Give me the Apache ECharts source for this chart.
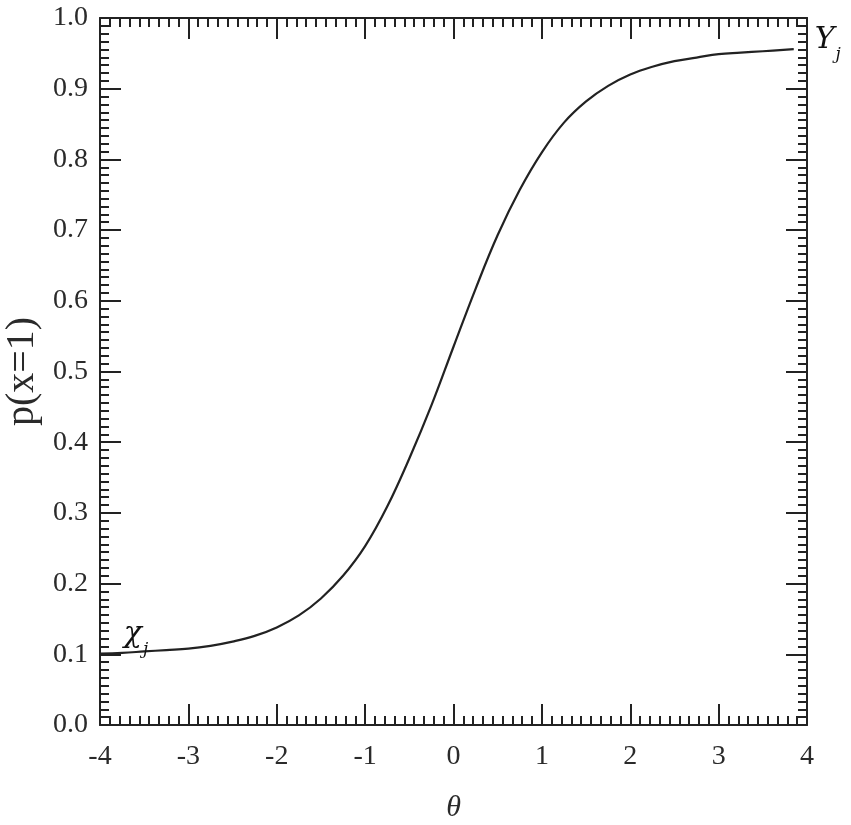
<!DOCTYPE html>
<html><head><meta charset="utf-8">
<script src="https://cdn.jsdelivr.net/npm/echarts@6/dist/echarts.min.js"></script>
<style>html,body{margin:0;padding:0;background:#fff}#c{width:851px;height:825px}</style>
</head><body><div id="c"></div>
<script>
const theta = [-4,-3.75,-3.5,-3.25,-3,-2.75,-2.5,-2.25,-2,-1.75,-1.5,-1.25,-1,-0.75,-0.5,-0.25,0,0.25,0.5,0.75,1,1.25,1.5,1.75,2,2.25,2.5,2.75,3,3.25,3.5,3.85];
const prob  = [0.101,0.102,0.104,0.106,0.108,0.112,0.118,0.126,0.138,0.155,0.179,0.211,0.253,0.309,0.377,0.452,0.535,0.617,0.693,0.757,0.810,0.852,0.882,0.904,0.920,0.931,0.939,0.944,0.949,0.951,0.953,0.956];
const xTicks = ['-4','-3','-2','-1','0','1','2','3','4'];
const lowerLabel = 'χ';
const upperLabel = 'Υ';
const subLabel = 'j';

const serif = '"Liberation Serif","Times New Roman",serif';
const annFont = '"DejaVu Serif",serif';
const axisColor = '#222';
const data = theta.map((t,i)=>[t,prob[i]]);
const last = theta.length-1;
function xAx(pos, labels){
  return {type:'value', position:pos, min:-4, max:4, interval:1,
    axisLine:{show:true, onZero:false, lineStyle:{color:axisColor,width:2}},
    axisTick:{show:true, inside:true, length:21, lineStyle:{color:axisColor,width:2}},
    minorTick:{show:true, splitNumber:9, length:9, lineStyle:{color:axisColor,width:2}},
    splitLine:{show:false}, minorSplitLine:{show:false},
    axisLabel:{show:labels, margin:18, fontFamily:serif, fontSize:28, color:'#2a2a2a', formatter:v=>xTicks[Math.round(v+4)]},
    name: labels ? 'θ' : '', nameLocation:'middle', nameGap:68,
    nameTextStyle:{fontFamily:serif, fontStyle:'italic', fontSize:30, color:'#2a2a2a'}};
}
function yAx(pos, labels){
  return {type:'value', position:pos, min:0, max:1, interval:0.1,
    axisLine:{show:true, onZero:false, lineStyle:{color:axisColor,width:2}},
    axisTick:{show:true, inside:true, length:21, lineStyle:{color:axisColor,width:2}},
    minorTick:{show:true, splitNumber:9, length:9, lineStyle:{color:axisColor,width:2}},
    splitLine:{show:false}, minorSplitLine:{show:false},
    axisLabel:{show:labels, margin:12, fontFamily:serif, fontSize:28, color:'#2a2a2a', formatter:v=>v.toFixed(1)},
    name: labels ? 'p(x=1)' : '', nameLocation:'middle', nameGap:52,
    nameTextStyle:{fontFamily:serif, fontSize:40, color:'#2a2a2a'}};
}
const rich = {
  a:{fontFamily:annFont, fontStyle:'italic', fontSize:30, color:'#111', lineHeight:36, verticalAlign:'bottom'},
  s:{fontFamily:annFont, fontStyle:'italic', fontSize:17, color:'#111', lineHeight:36, verticalAlign:'bottom', padding:[0,0,-8,1]}
};
const chart = echarts.init(document.getElementById('c'), null, {renderer:'canvas'});
chart.setOption({
  animation:false,
  backgroundColor:'#fff',
  grid:{left:100, right:44, top:18, bottom:100, containLabel:false, outerBoundsMode:'none'},
  xAxis:[xAx('bottom',true), xAx('top',false)],
  yAxis:[yAx('left',true), yAx('right',false)],
  series:[{type:'line', xAxisIndex:0, yAxisIndex:0, data:data, smooth:0.4, symbol:'none',
    lineStyle:{color:'#222', width:2.2},
    markPoint:{symbol:'circle', symbolSize:1, itemStyle:{color:'rgba(0,0,0,0)'}, silent:true,
      label:{show:true, position:'inside', rich:rich},
      data:[
        {coord:[theta[0],prob[0]], label:{offset:[36,-22], formatter:'{a|'+lowerLabel+'}{s|'+subLabel+'}'}},
        {coord:[theta[last],prob[last]], label:{offset:[34,-12], formatter:'{a|'+upperLabel+'}{s|'+subLabel+'}'}}
      ]}
  }]
});
</script></body></html>
